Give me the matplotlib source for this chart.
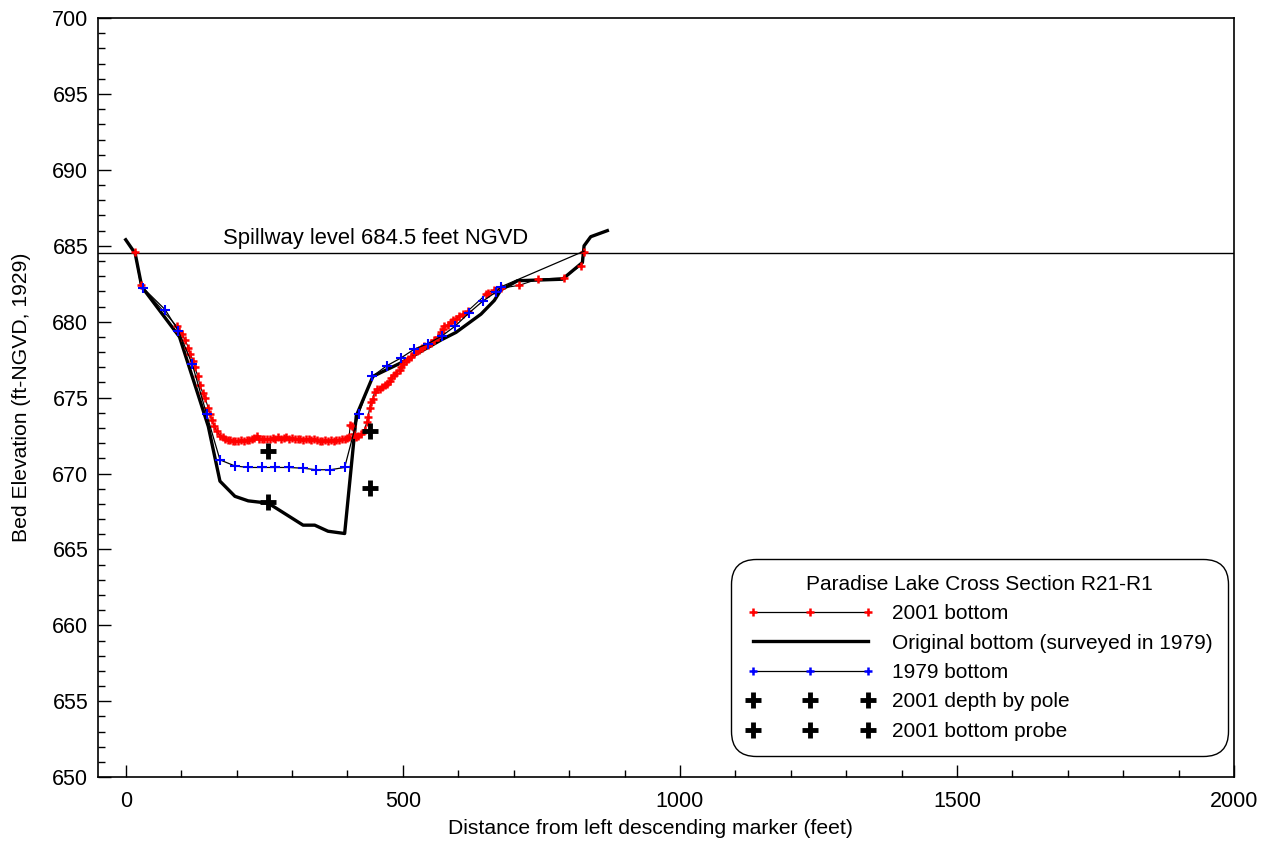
import matplotlib.pyplot as plt
from matplotlib.lines import Line2D
from matplotlib.ticker import MultipleLocator

plt.rcParams["font.family"] = ["Liberation Sans", "DejaVu Sans"]
plt.rcParams["font.size"] = 15

SPILLWAY = 684.5

# 2001 survey (dense soundings)
x_2001 = [16, 27, 92, 97, 101, 107, 113, 116, 122, 125, 130, 134, 139, 143, 149,
          152, 155, 160, 164, 170, 175, 179, 184, 188, 193, 198, 203, 208, 213,
          218, 223, 227, 232, 236, 240, 245, 250, 255, 260, 265, 270, 275, 280,
          285, 290, 295, 300, 305, 310, 315, 320, 325, 330, 335, 340, 345, 350,
          355, 360, 365, 370, 375, 380, 385, 390, 395, 400, 403, 405, 408, 412,
          415, 419, 425, 431, 435, 437, 440, 443, 446, 449, 453, 458, 462, 467,
          471, 476, 479, 484, 488, 494, 497, 500, 506, 510, 515, 521, 525, 530,
          535, 539, 545, 551, 557, 563, 569, 572, 575, 581, 587, 591, 596, 602,
          608, 617, 650, 653, 665, 677, 710, 743, 791, 821, 826]
y_2001 = [684.6, 682.4, 679.7, 679.4, 679.2, 678.8, 678.3, 677.9, 677.4, 677.0,
          676.4, 675.8, 675.3, 675.0, 674.3, 673.9, 673.5, 673.1, 672.8, 672.5,
          672.4, 672.3, 672.2, 672.2, 672.15, 672.15, 672.15, 672.2, 672.15,
          672.2, 672.2, 672.25, 672.35, 672.45, 672.3, 672.25, 672.3, 672.25,
          672.3, 672.35, 672.3, 672.4, 672.3, 672.35, 672.4, 672.3, 672.35,
          672.3, 672.25, 672.3, 672.2, 672.25, 672.3, 672.2, 672.25, 672.2,
          672.15, 672.15, 672.2, 672.15, 672.2, 672.15, 672.2, 672.2, 672.25,
          672.3, 672.35, 672.4, 673.2, 673.1, 672.6, 672.4, 672.5, 672.6, 672.9,
          673.4, 673.7, 674.3, 674.7, 674.9, 675.4, 675.6, 675.6, 675.7, 675.8,
          675.9, 676.1, 676.3, 676.5, 676.6, 676.85, 677.0, 677.2, 677.4, 677.55,
          677.7, 677.95, 678.05, 678.15, 678.3, 678.4, 678.5, 678.6, 678.8,
          679.0, 679.3, 679.5, 679.7, 679.8, 680.0, 680.1, 680.2, 680.4, 680.5,
          680.7, 681.8, 681.9, 682.1, 682.2, 682.4, 682.8, 682.9, 683.7, 684.6]

# original bottom, surveyed 1979
x_orig = [0, 17, 29, 97, 149, 170, 197, 221, 257, 281, 320, 341, 365, 395, 416,
          446, 497, 569, 596, 641, 665, 677, 707, 788, 824, 827, 839, 869]
y_orig = [685.4, 684.5, 682.3, 679.0, 673.1, 669.5, 668.5, 668.2, 668.05, 667.5,
          666.6, 666.6, 666.2, 666.05, 673.8, 676.4, 677.3, 678.8, 679.3, 680.5,
          681.4, 682.1, 682.7, 682.8, 683.9, 685.0, 685.6, 686.0]

# 1979 bottom
x_1979 = [32, 71, 95, 120, 146, 170, 197, 221, 245, 269, 294, 320, 344, 369,
          395, 420, 445, 471, 496, 521, 545, 570, 594, 620, 644, 668, 677, 827]
y_1979 = [682.2, 680.8, 679.4, 677.2, 673.9, 670.9, 670.5, 670.4, 670.4,
          670.4, 670.4, 670.35, 670.25, 670.25, 670.4, 673.9, 676.4, 677.1,
          677.6, 678.2, 678.55, 679.05, 679.7, 680.6, 681.35, 681.95, 682.3,
          684.65]

# 2001 spot measurements
x_pole = [257, 441]
y_pole = [671.5, 672.8]
x_probe = [257, 441]
y_probe = [668.1, 669.05]

fig = plt.figure(figsize=(12.73, 8.42), dpi=100)
ax = fig.add_axes([0.077, 0.077, 0.8925, 0.9015])

ax.axhline(SPILLWAY, color="black", lw=1.0, zorder=1)
ax.text(176, SPILLWAY + 0.3, "Spillway level 684.5 feet NGVD", fontsize=15.8,
        ha="left", va="bottom")

ax.plot(x_2001, y_2001, color="black", lw=0.8, marker="+", ms=6, mew=1.8,
        mec="red", zorder=3)
ax.plot(x_orig, y_orig, color="black", lw=2.4, zorder=2)
ax.plot(x_1979, y_1979, color="black", lw=0.9, marker="+", ms=7.5, mew=1.5,
        mec="blue", markevery=list(range(len(x_1979) - 1)), zorder=4)
ax.plot(x_pole, y_pole, ls="none", marker="+", ms=11, mew=3.5, color="black",
        zorder=5)
ax.plot(x_probe, y_probe, ls="none", marker="+", ms=11, mew=3.5,
        color="black", zorder=5)

ax.set_xlim(-50, 2000)
ax.set_ylim(650, 700)
ax.xaxis.set_major_locator(MultipleLocator(500))
ax.xaxis.set_minor_locator(MultipleLocator(100))
ax.yaxis.set_major_locator(MultipleLocator(5))
ax.yaxis.set_minor_locator(MultipleLocator(1))
ax.tick_params(which="both", direction="in", labelsize=15.5, width=1.0)
ax.tick_params(which="major", length=9, pad=7)
ax.tick_params(axis="x", which="major", pad=10)
ax.tick_params(which="minor", length=5)
for sp in ax.spines.values():
    sp.set_linewidth(1.2)

ax.set_xlabel("Distance from left descending marker (feet)", fontsize=15.2)
ax.xaxis.set_label_coords(0.486, -0.055)
ax.set_ylabel("Bed Elevation (ft-NGVD, 1929)", fontsize=15.2, labelpad=15)

handles = [
    Line2D([], [], color="black", lw=0.9, marker="+", ms=6, mew=1.8, mec="red"),
    Line2D([], [], color="black", lw=2.4),
    Line2D([], [], color="black", lw=0.9, marker="+", ms=6, mew=1.8, mec="blue"),
    Line2D([], [], ls="none", marker="+", ms=11, mew=3.5, color="black"),
    Line2D([], [], ls="none", marker="+", ms=11, mew=3.5, color="black"),
]
labels = ["2001 bottom", "Original bottom (surveyed in 1979)", "1979 bottom",
          "2001 depth by pole", "2001 bottom probe"]
leg = ax.legend(handles, labels, title="Paradise Lake Cross Section R21-R1",
                loc="lower right", bbox_to_anchor=(1.0, 0.019),
                numpoints=3, handlelength=6.1, handletextpad=0.85,
                labelspacing=0.5, fontsize=15, title_fontsize=15,
                borderpad=0.55, fancybox=True, framealpha=1, edgecolor="black")
leg.get_frame().set_linewidth(1.0)
leg.get_frame().set_boxstyle("round", pad=0.2, rounding_size=1.2)

fig.savefig("out.png", dpi=100)
